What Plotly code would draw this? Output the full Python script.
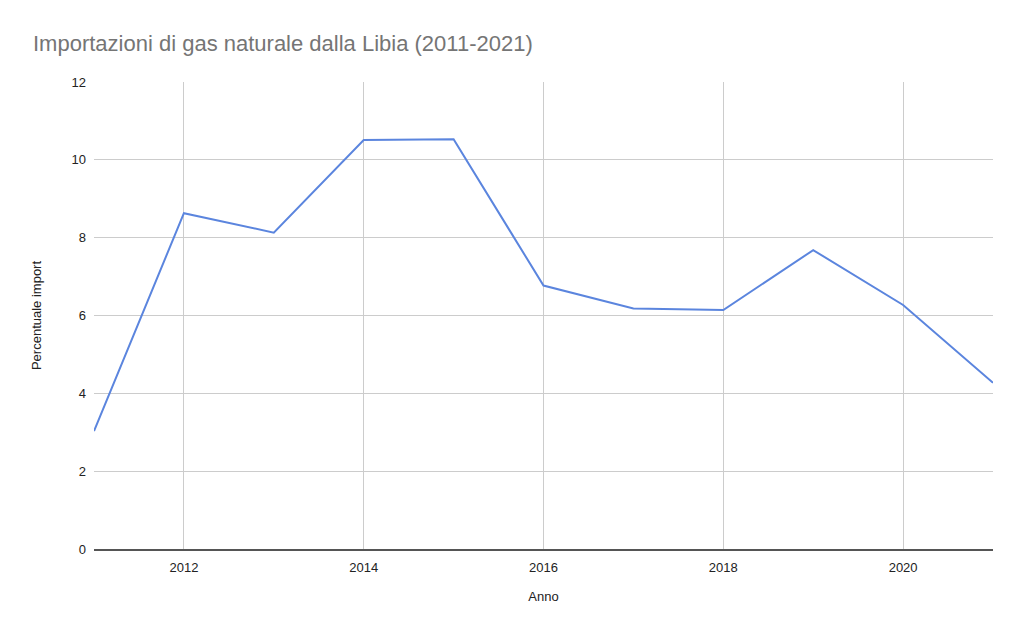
import plotly.graph_objects as go

anni = [2011, 2012, 2013, 2014, 2015, 2016, 2017, 2018, 2019, 2020, 2021]
percentuale_import = [3.03, 8.63, 8.13, 10.51, 10.53, 6.77, 6.18, 6.14, 7.68, 6.27, 4.27]

fig = go.Figure()
fig.add_trace(go.Scatter(x=anni, y=percentuale_import, mode="lines",
                         line=dict(color="#5b85de", width=2)))

# the page adds an 8px body margin, so the figure is 8px smaller each way
fig.update_layout(
    width=1016, height=625,
    paper_bgcolor="white", plot_bgcolor="white",
    margin=dict(l=86, r=31, t=74, b=84),
    font=dict(family="Liberation Sans, Arial", size=13, color="#222222"),
    title=dict(text="Importazioni di gas naturale dalla Libia (2011-2021)",
               x=0.0246, xanchor="left", y=0.944, yanchor="middle",
               font=dict(size=22, color="#757575")),
    showlegend=False,
)
fig.update_xaxes(range=[2011, 2021], tickvals=[2012, 2014, 2016, 2018, 2020],
                 showgrid=True, gridcolor="#cccccc", gridwidth=1,
                 showline=True, linecolor="#555555", linewidth=1.5,
                 ticks="", ticklabelstandoff=6,
                 title=dict(text="Anno", standoff=18, font=dict(size=13)))
fig.update_yaxes(range=[0, 12], dtick=2,
                 showgrid=True, gridcolor="#cccccc", gridwidth=1,
                 zeroline=False, ticks="", ticklabelstandoff=7,
                 title=dict(text="Percentuale import", standoff=26, font=dict(size=13)))

fig.write_html("out.html")
